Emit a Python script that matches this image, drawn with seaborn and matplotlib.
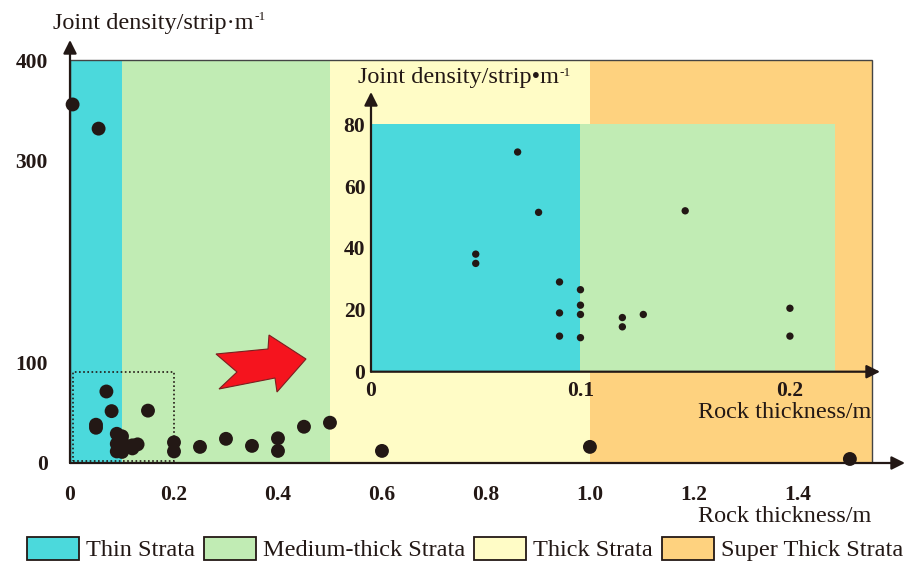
import matplotlib
matplotlib.use("Agg")
import matplotlib.pyplot as plt
import seaborn as sns
import numpy as np
import pandas as pd
from matplotlib.patches import Patch, Rectangle, Polygon

# ---------------- data ----------------
band_names = ["Thin Strata", "Medium-thick Strata", "Thick Strata", "Super Thick Strata"]
band_edges = [0.0, 0.1, 0.5, 1.0, 1.542]
band_top = 400
band_colors = ["#4bd9dc", "#c1ecb4", "#fffcc6", "#fed27f"]

inset_edges = [0.0, 0.1, 0.2214]
inset_top = 80

inset_x = [0.05, 0.05, 0.07, 0.08, 0.09, 0.09, 0.09, 0.10, 0.10, 0.10, 0.10,
           0.12, 0.12, 0.13, 0.15, 0.20, 0.20]
inset_y = [38, 35, 71, 51.5, 29, 19, 11.5, 26.5, 21.5, 18.5, 11,
           17.5, 14.5, 18.5, 52, 20.5, 11.5]

extra_x = [0.005, 0.055, 0.25, 0.30, 0.35, 0.40, 0.40, 0.45, 0.50, 0.60, 1.00, 1.50]
extra_y = [356, 332, 16, 24, 17, 24.5, 12, 36, 40, 12, 16, 4]

main_x = inset_x + extra_x
main_y = inset_y + extra_y

main_xticks = [0, 0.2, 0.4, 0.6, 0.8, 1.0, 1.2, 1.4]
main_xticklabels = ["0", "0.2", "0.4", "0.6", "0.8", "1.0", "1.2", "1.4"]
main_yticks = [0, 100, 300, 400]
main_yticklabels = ["0", "100", "300", "400"]

inset_xticks = [0, 0.1, 0.2]
inset_xticklabels = ["0", "0.1", "0.2"]
inset_yticks = [0, 20, 40, 60, 80]
inset_yticklabels = ["0", "20", "40", "60", "80"]

zoom_box_x = [0.005, 0.2]
zoom_box_y = [2, 90]

# ---------------- style ----------------
sns.set_style("white")
plt.rcParams['font.family'] = ['Liberation Serif', 'DejaVu Serif']

INK = "#231815"
W, H = 907, 568
fig = plt.figure(figsize=(W / 100, H / 100), dpi=100)

# ---------------- main axes ----------------
ax = fig.add_axes([70 / W, 1 - 463 / H, (905 - 70) / W, (463 - 40) / H])
ax.set_xlim(0, 1.606)
ax.set_ylim(0, 420)
ax.patch.set_alpha(0)
for s in ax.spines.values():
    s.set_visible(False)

for i in range(4):
    ax.fill_between([band_edges[i], band_edges[i + 1]], 0, band_top,
                    color=band_colors[i], lw=0, zorder=0)
ax.add_patch(Rectangle((band_edges[0], 0), band_edges[-1] - band_edges[0], band_top,
                       fill=False, edgecolor="#444444", lw=1.0, zorder=1))

ax.add_patch(Rectangle((zoom_box_x[0], zoom_box_y[0]), zoom_box_x[1] - zoom_box_x[0],
                       zoom_box_y[1] - zoom_box_y[0], fill=False, edgecolor=INK,
                       lw=1.2, ls=(0, (1, 1.5)), zorder=3))

sns.scatterplot(x=main_x, y=main_y, ax=ax, color=INK, s=100, edgecolor='none',
                zorder=5, clip_on=False, legend=False)

arrow_kw = dict(arrowstyle='-|>', color=INK, lw=1.6, mutation_scale=20, shrinkA=0, shrinkB=0)
ax.annotate('', xy=(1, 0), xytext=(0, 0), xycoords='axes fraction', arrowprops=arrow_kw, zorder=6)
ax.annotate('', xy=(0, 1), xytext=(0, 0), xycoords='axes fraction', arrowprops=arrow_kw, zorder=6)

ax.set_xticks(main_xticks)
ax.set_xticklabels(main_xticklabels, fontweight='bold', fontsize=15.5, color=INK)
ax.set_yticks(main_yticks)
ax.set_yticklabels(main_yticklabels, fontweight='bold', fontsize=15.5, color=INK)
ax.tick_params(axis='both', length=0)
ax.tick_params(axis='x', pad=16)
ax.tick_params(axis='y', pad=16)
ax.set_xlabel('')
ax.set_ylabel('')

# ---------------- inset axes ----------------
ins = fig.add_axes([371 / W, 1 - 371.7 / H, (880 - 371) / W, (371.7 - 92) / H])
ins.set_xlim(0, 0.243)
ins.set_ylim(0, 90.4)
ins.patch.set_alpha(0)
for s in ins.spines.values():
    s.set_visible(False)
for i in range(2):
    ins.fill_between([inset_edges[i], inset_edges[i + 1]], 0, inset_top,
                     color=band_colors[i], lw=0, zorder=0)
sns.scatterplot(x=inset_x, y=inset_y, ax=ins, color=INK, s=28, edgecolor='none',
                zorder=5, legend=False)
ins.annotate('', xy=(1, 0), xytext=(0, 0), xycoords='axes fraction', arrowprops=arrow_kw, zorder=6)
ins.annotate('', xy=(0, 1), xytext=(0, 0), xycoords='axes fraction', arrowprops=arrow_kw, zorder=6)
ins.set_xticks(inset_xticks)
ins.set_xticklabels(inset_xticklabels, fontweight='bold', fontsize=15.5, color=INK)
ins.set_yticks(inset_yticks)
ins.set_yticklabels(inset_yticklabels, fontweight='bold', fontsize=15.5, color=INK)
ins.tick_params(axis='both', length=0)
ins.tick_params(axis='x', pad=7)
ins.tick_params(axis='y', pad=4)
ins.set_xlabel('')
ins.set_ylabel('')

# ---------------- labels ----------------
renderer = fig.canvas.get_renderer()


def sup_label(xpx, ypx, base, sup, fs):
    t = fig.text(xpx / W, 1 - ypx / H, base, ha='left', va='center', fontsize=fs, color=INK)
    bb = t.get_window_extent(renderer)
    fig.text((bb.x1 + 1) / W, (bb.y1 + 1) / H, sup, ha='left', va='top',
             fontsize=fs * 0.55, color=INK)


sup_label(53, 23, "Joint density/strip·m", "-1", 17.5)
sup_label(358, 78, "Joint density/strip•m", "-1", 17.5)
fig.text(871 / W, 1 - 517 / H, "Rock thickness/m", ha='right', va='center',
         fontsize=17.5, color=INK)
fig.text(871 / W, 1 - 412 / H, "Rock thickness/m", ha='right', va='center',
         fontsize=17.5, color=INK)

# ---------------- red arrow decoration ----------------
arrow_px = [(216, 354), (268, 349), (269, 335), (306, 359), (277, 392),
            (275, 378), (219, 389), (237, 372)]
fig.patches.append(Polygon([(x / W, 1 - y / H) for x, y in arrow_px], closed=True,
                           transform=fig.transFigure, facecolor="#f5141e",
                           edgecolor="#7a2020", lw=0.8, zorder=7))

# ---------------- legend ----------------
handles = [Patch(facecolor=c, edgecolor=INK, lw=1.3) for c in band_colors]
fig.legend(handles, band_names, loc='center', bbox_to_anchor=(465 / W, 1 - 549 / H),
           ncol=4, frameon=False, fontsize=17.5, handlelength=2.15, handleheight=1.1,
           handletextpad=0.3, columnspacing=0.35, borderaxespad=0, borderpad=0,
           labelcolor=INK)

fig.savefig("out.png", dpi=100)
